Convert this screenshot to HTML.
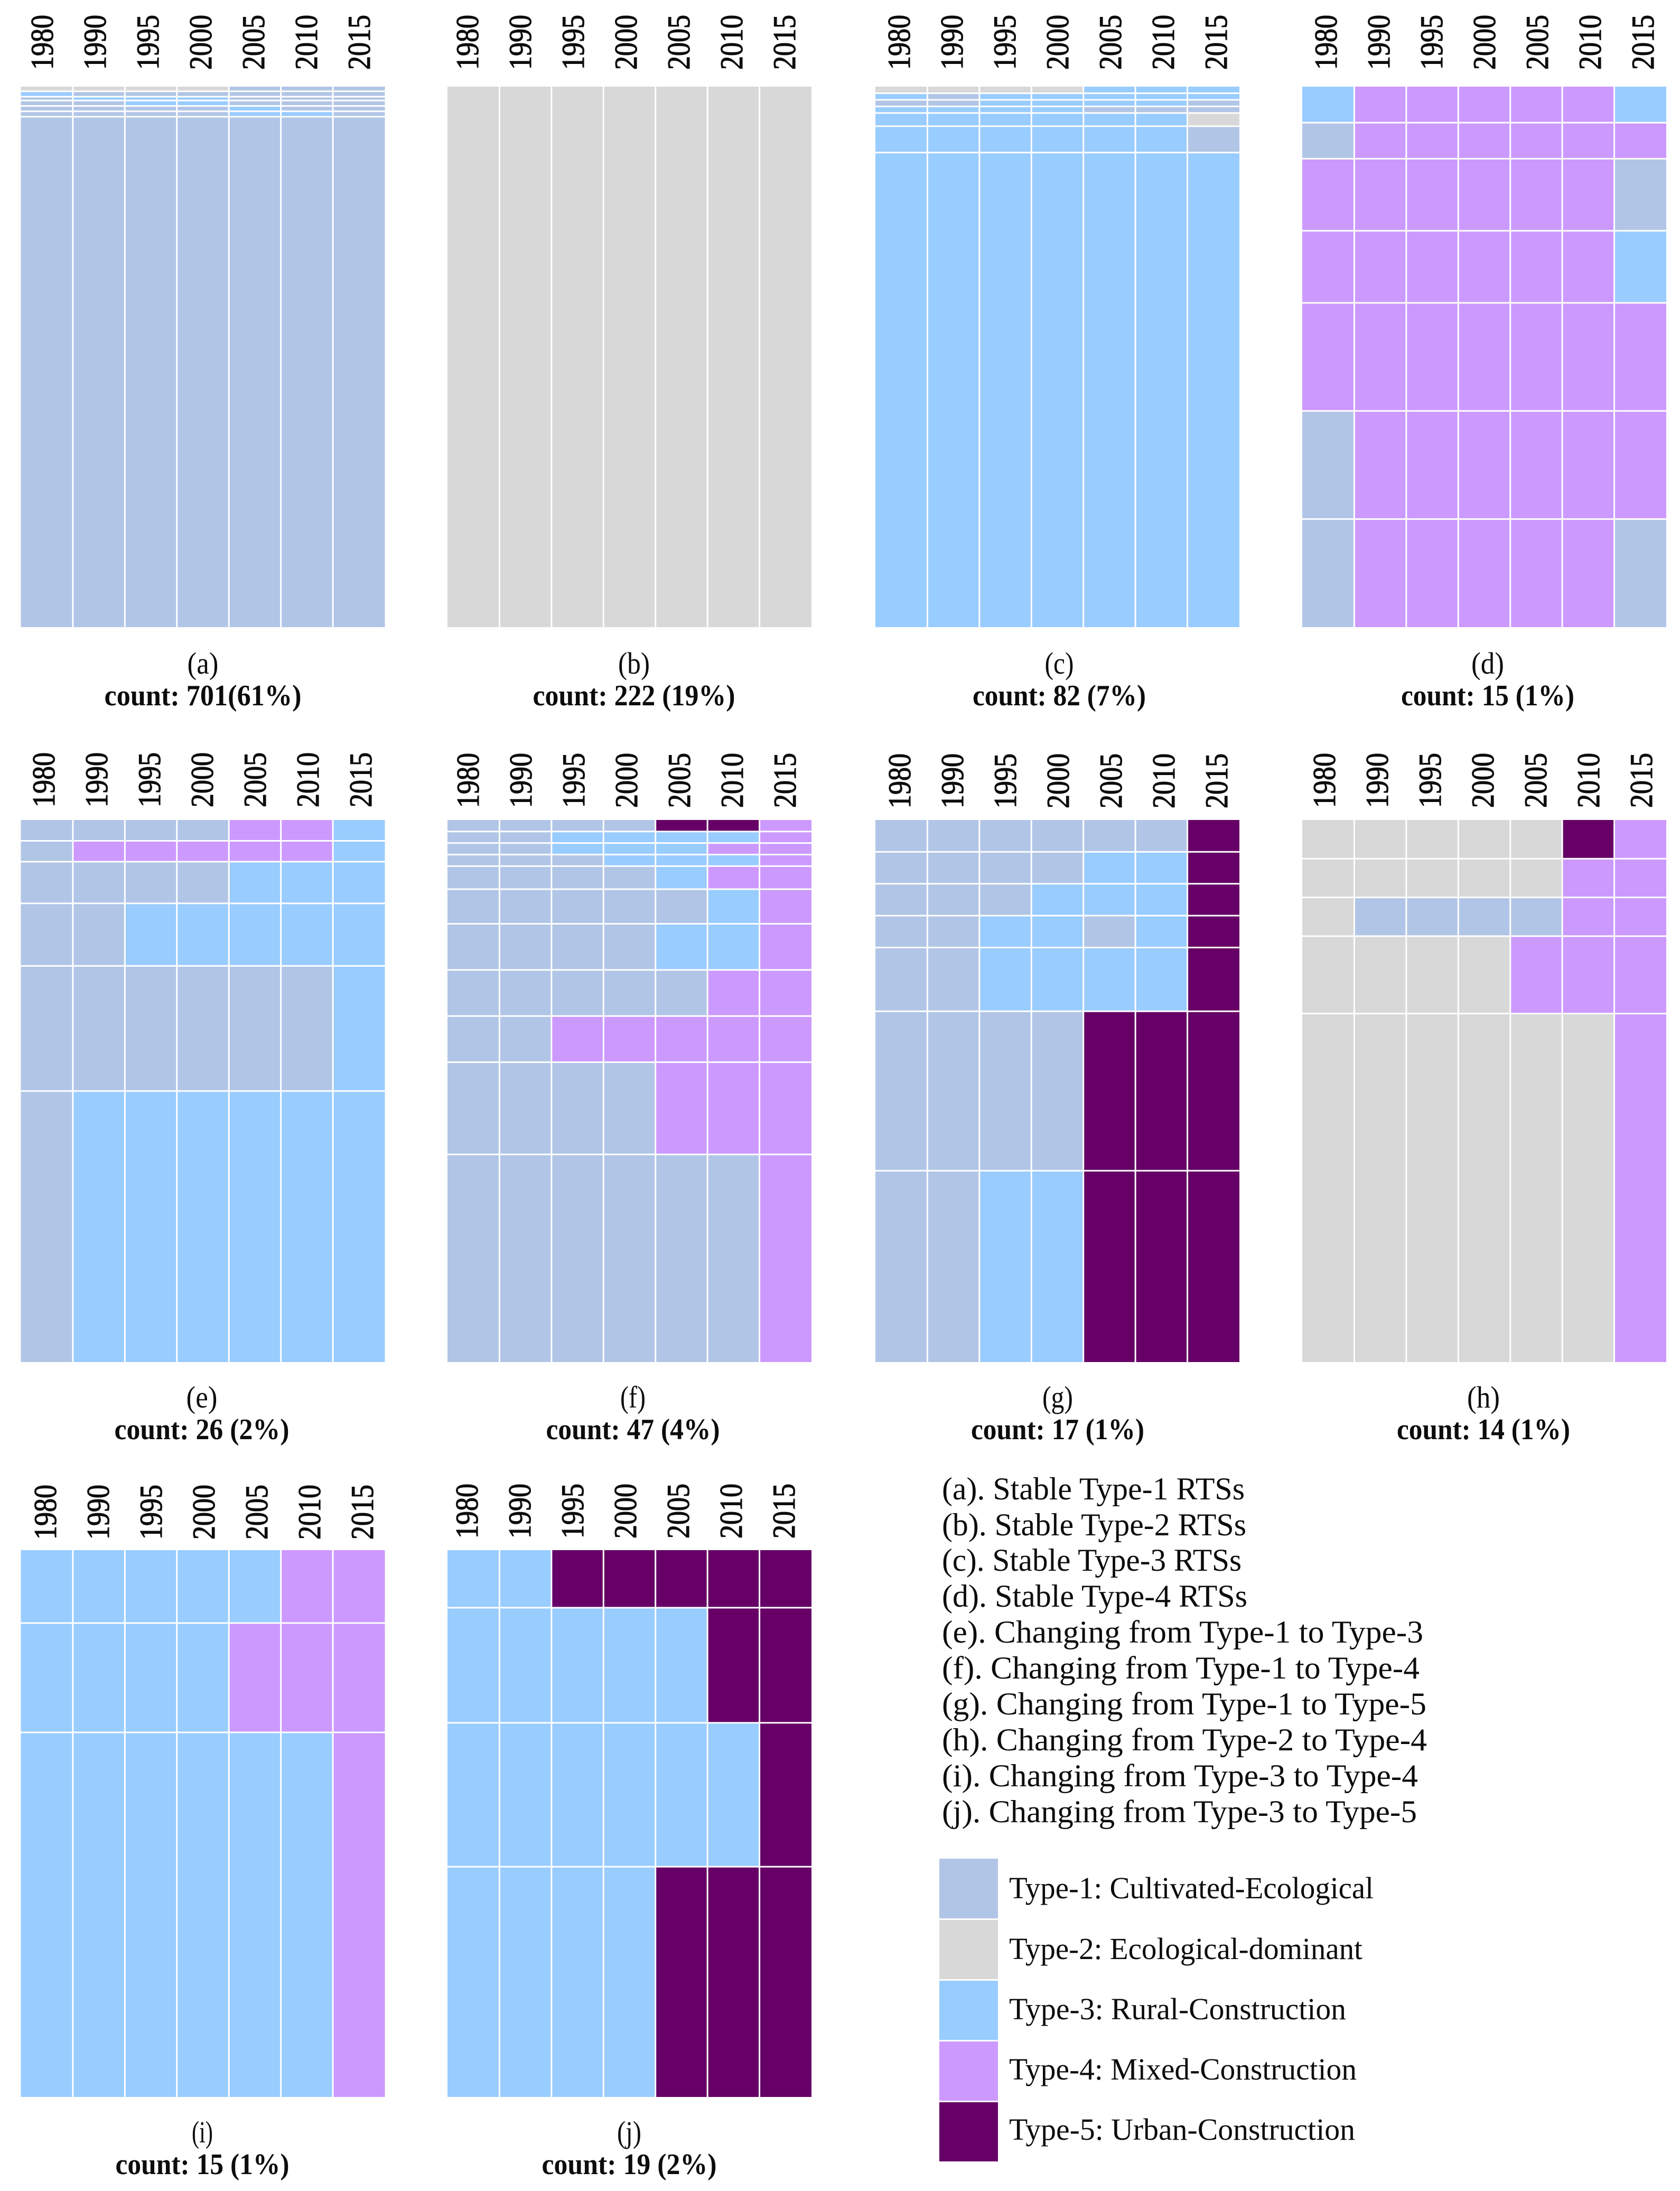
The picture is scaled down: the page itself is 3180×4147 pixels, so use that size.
<!DOCTYPE html>
<html lang="en">
<head>
<meta charset="utf-8">
<title>RTS type transition sequences</title>
<style>
  html, body { margin: 0; padding: 0; background: #fff; width: 3180px; height: 4147px; overflow: hidden; }
  svg { display: block; }
  text { font-family: "Liberation Serif", serif; fill: #0c0c0c; }
  .year { font-size: 60px; stroke: #0c0c0c; stroke-width: 1.2px; }
  .letter { font-size: 58px; }
  .count { font-size: 56px; font-weight: bold; }
  .list { font-size: 60px; }
  .legend { font-size: 58px; }
</style>
</head>
<body>
<svg id="figure" xmlns="http://www.w3.org/2000/svg" width="3180" height="4147" viewBox="0 0 3180 4147">
  <rect x="0" y="0" width="3180" height="4147" fill="#ffffff"/>
  <g id="panels"></g>

  <g>
    <text class="list" x="1783" y="2838" textLength="573" lengthAdjust="spacingAndGlyphs">(a). Stable Type-1 RTSs</text>
    <text class="list" x="1783" y="2906" textLength="576" lengthAdjust="spacingAndGlyphs">(b). Stable Type-2 RTSs</text>
    <text class="list" x="1783" y="2973" textLength="567" lengthAdjust="spacingAndGlyphs">(c). Stable Type-3 RTSs</text>
    <text class="list" x="1783" y="3041" textLength="578" lengthAdjust="spacingAndGlyphs">(d). Stable Type-4 RTSs</text>
    <text class="list" x="1783" y="3109" textLength="911" lengthAdjust="spacingAndGlyphs">(e). Changing from Type-1 to Type-3</text>
    <text class="list" x="1783" y="3177" textLength="904" lengthAdjust="spacingAndGlyphs">(f). Changing from Type-1 to Type-4</text>
    <text class="list" x="1783" y="3245" textLength="917" lengthAdjust="spacingAndGlyphs">(g). Changing from Type-1 to Type-5</text>
    <text class="list" x="1783" y="3313" textLength="918" lengthAdjust="spacingAndGlyphs">(h). Changing from Type-2 to Type-4</text>
    <text class="list" x="1783" y="3381" textLength="901" lengthAdjust="spacingAndGlyphs">(i). Changing from Type-3 to Type-4</text>
    <text class="list" x="1783" y="3449" textLength="899" lengthAdjust="spacingAndGlyphs">(j). Changing from Type-3 to Type-5</text>
  </g>

  <g>
    <rect x="1778" y="3518" width="111" height="113" fill="#B1C5E6"/>
    <rect x="1778" y="3634" width="111" height="112" fill="#D8D8D8"/>
    <rect x="1778" y="3749" width="111" height="112" fill="#99CCFF"/>
    <rect x="1778" y="3864" width="111" height="112" fill="#CC99FF"/>
    <rect x="1778" y="3979" width="111" height="112" fill="#660066"/>
    <text class="legend" x="1910" y="3593" textLength="690" lengthAdjust="spacingAndGlyphs">Type-1: Cultivated-Ecological</text>
    <text class="legend" x="1910" y="3708" textLength="669" lengthAdjust="spacingAndGlyphs">Type-2: Ecological-dominant</text>
    <text class="legend" x="1910" y="3822" textLength="638" lengthAdjust="spacingAndGlyphs">Type-3: Rural-Construction</text>
    <text class="legend" x="1910" y="3936" textLength="658" lengthAdjust="spacingAndGlyphs">Type-4: Mixed-Construction</text>
    <text class="legend" x="1910" y="4050" textLength="655" lengthAdjust="spacingAndGlyphs">Type-5: Urban-Construction</text>
  </g>
</svg>

<script>
// ---- Chart data: categories, row sizes (town counts), and the type of each row per year ----
const years = ['1980', '1990', '1995', '2000', '2005', '2010', '2015'];

const countsA = [6, 7, 5, 7, 7, 7, 662];
const typesA = [
  [2, 2, 2, 2, 1, 1, 1],
  [3, 1, 1, 1, 1, 1, 1],
  [1, 3, 3, 3, 1, 1, 1],
  [1, 1, 3, 3, 1, 1, 1],
  [1, 1, 1, 1, 3, 1, 1],
  [1, 1, 1, 1, 3, 3, 1],
  [1, 1, 1, 1, 1, 1, 1]
];

const countsB = [222];
const typesB = [
  [2, 2, 2, 2, 2, 2, 2]
];

const countsC = [1, 1, 1, 1, 2, 4, 72];
const typesC = [
  [2, 2, 2, 2, 3, 3, 3],
  [3, 1, 3, 3, 3, 3, 3],
  [1, 1, 3, 3, 3, 3, 1],
  [3, 3, 3, 3, 1, 1, 1],
  [3, 3, 3, 3, 3, 3, 2],
  [3, 3, 3, 3, 3, 3, 1],
  [3, 3, 3, 3, 3, 3, 3]
];

const countsD = [1, 1, 2, 2, 3, 3, 3];
const typesD = [
  [3, 4, 4, 4, 4, 4, 3],
  [1, 4, 4, 4, 4, 4, 4],
  [4, 4, 4, 4, 4, 4, 1],
  [4, 4, 4, 4, 4, 4, 3],
  [4, 4, 4, 4, 4, 4, 4],
  [1, 4, 4, 4, 4, 4, 4],
  [1, 4, 4, 4, 4, 4, 1]
];

const countsE = [1, 1, 2, 3, 6, 13];
const typesE = [
  [1, 1, 1, 1, 4, 4, 3],
  [1, 4, 4, 4, 4, 4, 3],
  [1, 1, 1, 1, 3, 3, 3],
  [1, 1, 3, 3, 3, 3, 3],
  [1, 1, 1, 1, 1, 1, 3],
  [1, 3, 3, 3, 3, 3, 3]
];

const countsF = [1, 1, 1, 1, 2, 3, 4, 4, 4, 8, 18];
const typesF = [
  [1, 1, 1, 1, 5, 5, 4],
  [1, 1, 3, 3, 3, 3, 4],
  [1, 1, 3, 3, 3, 4, 4],
  [1, 1, 1, 3, 3, 3, 4],
  [1, 1, 1, 1, 3, 4, 4],
  [1, 1, 1, 1, 1, 3, 4],
  [1, 1, 1, 1, 3, 3, 4],
  [1, 1, 1, 1, 1, 4, 4],
  [1, 1, 4, 4, 4, 4, 4],
  [1, 1, 1, 1, 4, 4, 4],
  [1, 1, 1, 1, 1, 1, 4]
];

const countsG = [1, 1, 1, 1, 2, 5, 6];
const typesG = [
  [1, 1, 1, 1, 1, 1, 5],
  [1, 1, 1, 1, 3, 3, 5],
  [1, 1, 1, 3, 3, 3, 5],
  [1, 1, 3, 3, 1, 3, 5],
  [1, 1, 3, 3, 3, 3, 5],
  [1, 1, 1, 1, 5, 5, 5],
  [1, 1, 3, 3, 5, 5, 5]
];

const countsH = [1, 1, 1, 2, 9];
const typesH = [
  [2, 2, 2, 2, 2, 5, 4],
  [2, 2, 2, 2, 2, 4, 4],
  [2, 1, 1, 1, 1, 4, 4],
  [2, 2, 2, 2, 4, 4, 4],
  [2, 2, 2, 2, 2, 2, 4]
];

const countsI = [2, 3, 10];
const typesI = [
  [3, 3, 3, 3, 3, 4, 4],
  [3, 3, 3, 3, 4, 4, 4],
  [3, 3, 3, 3, 3, 3, 4]
];

const countsJ = [2, 4, 5, 8];
const typesJ = [
  [3, 3, 5, 5, 5, 5, 5],
  [3, 3, 3, 3, 3, 5, 5],
  [3, 3, 3, 3, 3, 3, 5],
  [3, 3, 3, 3, 5, 5, 5]
];

// ---- Presentation ----
const typeFill = { 1: '#B1C5E6', 2: '#D8D8D8', 3: '#99CCFF', 4: '#CC99FF', 5: '#660066' };
const PANEL_W = 689;
const LABEL_STEP = 100;
const GAP = 1.5;
const NS = 'http://www.w3.org/2000/svg';
const panelsRoot = document.getElementById('panels');

function xScale(left, index) {
  return left + index * PANEL_W / years.length;
}

function yScale(top, height, total, cumulative) {
  return top + cumulative / total * height;
}

function drawPanel(opts, counts, types) {
  const id = opts.id;
  const group = document.createElementNS(NS, 'g');
  
  
  panelsRoot.appendChild(group);

  const height = opts.bottom - opts.top;
  const total = counts.reduce(function (a, b) { return a + b; }, 0);

  // x-axis year labels
  years.forEach(function (year, c) {
    const cx = opts.labelStart + c * LABEL_STEP;
    const baseX = cx + 20;
    const label = document.createElementNS(NS, 'text');
    label.setAttribute('class', 'year');
    label.setAttribute('x', baseX);
    label.setAttribute('y', opts.labelBottom);
    label.setAttribute('transform', 'rotate(-90 ' + baseX + ' ' + opts.labelBottom + ')');
    label.setAttribute('textLength', 104);
    label.setAttribute('lengthAdjust', 'spacingAndGlyphs');
    label.textContent = year;
    
    
    group.appendChild(label);
  });

  // heatmap cells: row height comes from the count, colour from the type
  let cumulative = 0;
  counts.forEach(function (count, r) {
    const y0 = yScale(opts.top, height, total, cumulative) + (r > 0 ? GAP : 0);
    cumulative += count;
    const y1 = yScale(opts.top, height, total, cumulative) - (r < counts.length - 1 ? GAP : 0);
    years.forEach(function (year, c) {
      const x0 = xScale(opts.left, c) + (c > 0 ? GAP : 0);
      const x1 = xScale(opts.left, c + 1) - (c < years.length - 1 ? GAP : 0);
      const cell = document.createElementNS(NS, 'rect');
      cell.setAttribute('x', x0);
      cell.setAttribute('y', y0);
      cell.setAttribute('width', x1 - x0);
      cell.setAttribute('height', y1 - y0);
      cell.setAttribute('fill', typeFill[types[r][c]]);
      
      
      group.appendChild(cell);
    });
  });

  // captions
  const letter = document.createElementNS(NS, 'text');
  letter.setAttribute('class', 'letter');
  letter.setAttribute('x', opts.capX);
  letter.setAttribute('y', opts.capBase + 88);
  letter.setAttribute('text-anchor', 'middle');
  letter.setAttribute('textLength', opts.letterW);
  letter.setAttribute('lengthAdjust', 'spacingAndGlyphs');
  letter.textContent = '(' + id + ')';
  
  
  group.appendChild(letter);

  const countText = document.createElementNS(NS, 'text');
  countText.setAttribute('class', 'count');
  countText.setAttribute('x', opts.capX);
  countText.setAttribute('y', opts.capBase + 148);
  countText.setAttribute('text-anchor', 'middle');
  countText.setAttribute('textLength', opts.countW);
  countText.setAttribute('lengthAdjust', 'spacingAndGlyphs');
  countText.textContent = opts.caption;
  
  
  group.appendChild(countText);
}

drawPanel({ id: 'a', left: 39.5, top: 164, bottom: 1187, capBase: 1187, labelStart: 80, labelBottom: 132, capX: 384, letterW: 59, countW: 373, caption: 'count: 701(61%)' }, countsA, typesA);
drawPanel({ id: 'b', left: 847, top: 164, bottom: 1187, capBase: 1187, labelStart: 885, labelBottom: 132, capX: 1200, letterW: 60, countW: 383, caption: 'count: 222 (19%)' }, countsB, typesB);
drawPanel({ id: 'c', left: 1657, top: 164, bottom: 1187, capBase: 1187, labelStart: 1702, labelBottom: 132, capX: 2005, letterW: 55, countW: 328, caption: 'count: 82 (7%)' }, countsC, typesC);
drawPanel({ id: 'd', left: 2465, top: 164, bottom: 1187, capBase: 1187, labelStart: 2510, labelBottom: 132, capX: 2816, letterW: 62, countW: 328, caption: 'count: 15 (1%)' }, countsD, typesD);

drawPanel({ id: 'e', left: 39.5, top: 1552, bottom: 2578, capBase: 2576, labelStart: 83, labelBottom: 1528, capX: 382, letterW: 59, countW: 331, caption: 'count: 26 (2%)' }, countsE, typesE);
drawPanel({ id: 'f', left: 847, top: 1552, bottom: 2578, capBase: 2576, labelStart: 886, labelBottom: 1529, capX: 1198, letterW: 48, countW: 329, caption: 'count: 47 (4%)' }, countsF, typesF);
drawPanel({ id: 'g', left: 1657, top: 1552, bottom: 2578, capBase: 2576, labelStart: 1703, labelBottom: 1530, capX: 2002, letterW: 58, countW: 328, caption: 'count: 17 (1%)' }, countsG, typesG);
drawPanel({ id: 'h', left: 2465, top: 1552, bottom: 2578, capBase: 2576, labelStart: 2507, labelBottom: 1529, capX: 2808, letterW: 62, countW: 328, caption: 'count: 14 (1%)' }, countsH, typesH);

drawPanel({ id: 'i', left: 39.5, top: 2934, bottom: 3969, capBase: 3967, labelStart: 86, labelBottom: 2914, capX: 383, letterW: 40, countW: 329, caption: 'count: 15 (1%)' }, countsI, typesI);
drawPanel({ id: 'j', left: 847, top: 2934, bottom: 3969, capBase: 3967, labelStart: 884, labelBottom: 2912, capX: 1191, letterW: 46, countW: 331, caption: 'count: 19 (2%)' }, countsJ, typesJ);
</script>
</body>
</html>
